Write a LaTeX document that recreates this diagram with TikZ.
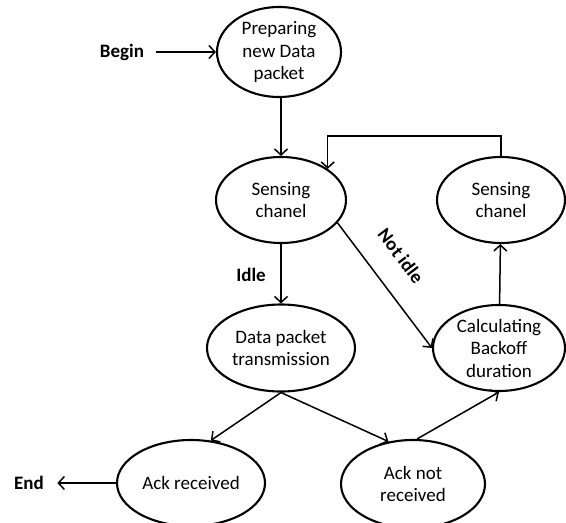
\documentclass[tikz,border=0pt]{standalone}
\usepackage{fontspec}
\setmainfont{Carlito}
\usetikzlibrary{arrows.meta,shapes.geometric}

\begin{document}
\begin{tikzpicture}[x=1pt, y=-1pt, font=\fontsize{19}{22.5}\selectfont]
 \tikzset{
state/.style = {ellipse, draw=black, line width=2.1pt, inner sep=0pt, align=center},
flow/.style = {line width=1.5pt, -{Straight Barb[length=6pt, width=13pt, line width=1.5pt]}},
tag/.style = {font=\fontsize{19}{22.5}\selectfont\bfseries}}

    \useasboundingbox (0,0) rectangle (566,523);

    \node [state] (prep)[minimum width=124pt, minimum height=90pt] at (279,52) {Preparing\\new Data\\packet};
    \node [state] (sense1)[minimum width=130pt, minimum height=86pt] at (281,200) {Sensing\\chanel};
    \node [state] (sense2)[minimum width=128pt, minimum height=86pt] at (501,200) {Sensing\\chanel};
    \node [state] (data)[minimum width=148pt, minimum height=87pt] at (281,348) {Data packet\\transmission};
    \node [state] (backoff)[minimum width=132pt, minimum height=86pt] at (499,348) {Calculating\\Backoff\\duration};
    \node [state] (ackyes)[minimum width=148pt, minimum height=86pt] at (191,483) {Ack received};
    \node [state] (acknot)[minimum width=144pt, minimum height=88pt] at (413,484) {Ack not\\received};

    \node [tag] (begin) at (122,52) {Begin};
    \node [tag] (end) at (29,483) {End};
    \node [tag] (idle) at (251,275) {Idle};
    \node [tag, rotate=-53] (notidle) at (401,256) {Not idle};

    \draw [flow] (begin.east) ++(8,0) coordinate (b0) -- (prep.west);
    \draw [flow] (prep.south -| sense1.north) -- (sense1.north);
    \draw [flow] (sense1) -- (data);
    \draw [flow] (sense1.-22) -- (backoff.west);
    \draw [flow] (backoff) -- (sense2);
    \draw [flow] (sense2.north) -- ++(0,-20) -| (sense1.north east);
    \draw [flow] (data.south) -- (ackyes.65);
    \draw [flow] (data.south) -- (acknot.120);
    \draw [flow] (acknot.85) -- (backoff.south);
    \draw [flow] (ackyes.west) -- ([xshift=10pt]end.east);

  \end{tikzpicture}
\end{document}
